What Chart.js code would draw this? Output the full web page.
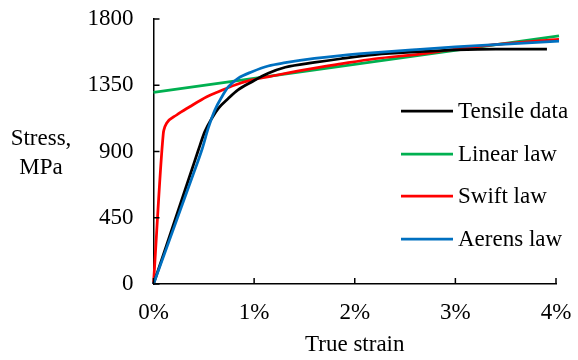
<!DOCTYPE html>
<html>
<head>
<meta charset="utf-8">
<script src="https://cdn.jsdelivr.net/npm/chart.js@4"></script>
<style>
  html, body { margin: 0; padding: 0; background: #fff; }
  #wrap { width: 578px; height: 360px; }
</style>
</head>
<body>
<div id="wrap"><canvas id="myChart"></canvas></div>
<script>
// strain in %, stress in MPa
const tensileStrain = [0, 0.38, 0.446, 0.51, 0.58, 0.645, 0.745, 0.84, 0.98, 1.14, 1.31, 1.6, 1.86, 2.2, 2.65, 3.0, 3.4, 3.91];
const tensileStress = [0, 774, 910, 1035, 1126, 1193, 1261, 1318, 1374, 1431, 1472, 1505, 1530, 1558, 1578, 1590, 1596, 1596];

const linearStrain = [0, 4.03];
const linearStress = [1302, 1685];

const swiftStrain = [0, 0.097, 0.105, 0.13, 0.23, 0.36, 0.53, 0.645, 0.81, 0.98, 1.16, 1.5, 1.86, 2.2, 2.65, 3.0, 3.5, 4.03];
const swiftStress = [0, 1020, 1050, 1092, 1148, 1204, 1272, 1306, 1352, 1386, 1410, 1455, 1495, 1530, 1562, 1595, 1632, 1662];

const aerensStrain = [0, 0.41, 0.48, 0.545, 0.61, 0.68, 0.745, 0.84, 0.98, 1.14, 1.31, 1.6, 1.86, 2.2, 2.65, 3.0, 3.5, 4.03];
const aerensStress = [0, 774, 910, 1060, 1182, 1272, 1340, 1397, 1442, 1481, 1503, 1532, 1552, 1572, 1594, 1610, 1630, 1650];

const seriesNames = ["Tensile data", "Linear law", "Swift law", "Aerens law"];
const seriesColors = ["#000000", "#00B050", "#FF0000", "#0070C0"];

const xTicks = [0, 1, 2, 3, 4];
const yTicks = [0, 450, 900, 1350, 1800];

const FONT = "'Liberation Serif', 'Times New Roman', serif";
const FSIZE = 23;

function toPoints(xs, ys) {
  return xs.map((x, i) => ({ x: x, y: ys[i] }));
}

const allX = [tensileStrain, linearStrain, swiftStrain, aerensStrain];
const allY = [tensileStress, linearStress, swiftStress, aerensStress];

const datasets = seriesNames.map((name, i) => ({
  label: name,
  data: toPoints(allX[i], allY[i]),
  borderColor: seriesColors[i],
  backgroundColor: seriesColors[i],
  borderWidth: 2.75,
  pointRadius: 0,
  fill: false,
  cubicInterpolationMode: "monotone",
  clip: false,
}));
// draw order: blue on top like the original
datasets[1].order = 3;
datasets[2].order = 2;
datasets[0].order = 1;
datasets[3].order = 0;

// inner tick marks, horizontal y title, legend inside the plot
const extras = {
  id: "extras",
  afterDraw(chart) {
    const ctx = chart.ctx;
    const xs = chart.scales.x;
    const ys = chart.scales.y;
    const area = chart.chartArea;
    ctx.save();
    ctx.strokeStyle = "#000";
    ctx.lineWidth = 1.5;
    xTicks.forEach((v) => {
      const px = xs.getPixelForValue(v);
      ctx.beginPath();
      ctx.moveTo(px, area.bottom);
      ctx.lineTo(px, area.bottom - 6);
      ctx.stroke();
    });
    yTicks.forEach((v) => {
      const py = ys.getPixelForValue(v);
      ctx.beginPath();
      ctx.moveTo(area.left, py);
      ctx.lineTo(area.left + 6, py);
      ctx.stroke();
    });

    ctx.fillStyle = "#000";
    ctx.font = FSIZE + "px " + FONT;
    ctx.textAlign = "center";
    ctx.textBaseline = "middle";
    ctx.fillText("Stress,", 41, 139);
    ctx.fillText("MPa", 41, 168);

    ctx.textAlign = "left";
    const rowY = [111, 154, 196, 239];
    seriesNames.forEach((name, i) => {
      ctx.strokeStyle = seriesColors[i];
      ctx.lineWidth = 2.75;
      ctx.beginPath();
      ctx.moveTo(401, rowY[i]);
      ctx.lineTo(453, rowY[i]);
      ctx.stroke();
      ctx.fillText(name, 458, rowY[i] + 1);
    });
    ctx.restore();
  },
};

new Chart(document.getElementById("myChart"), {
  type: "line",
  data: { datasets: datasets },
  options: {
    responsive: true,
    maintainAspectRatio: false,
    animation: false,
    layout: { padding: { top: 19, right: 22, left: 0, bottom: 0 } },
    plugins: { legend: { display: false }, tooltip: { enabled: false } },
    scales: {
      x: {
        type: "linear",
        min: 0,
        max: 4,
        afterBuildTicks: (s) => { s.ticks = xTicks.map((v) => ({ value: v })); },
        afterFit: (s) => { s.height = 76; s.paddingLeft = 0; s.paddingRight = 0; },
        grid: { drawOnChartArea: false, drawTicks: false },
        border: { color: "#000", width: 1.5 },
        ticks: {
          color: "#000",
          padding: 15,
          maxRotation: 0,
          font: { family: FONT, size: FSIZE },
          callback: (v) => v + "%",
        },
        title: {
          display: true,
          text: "True strain",
          color: "#000",
          font: { family: FONT, size: FSIZE },
          padding: { top: 0, bottom: 1 },
        },
      },
      y: {
        type: "linear",
        min: 0,
        max: 1800,
        afterBuildTicks: (s) => { s.ticks = yTicks.map((v) => ({ value: v })); },
        afterFit: (s) => { s.width = 153.5; s.paddingTop = 0; s.paddingBottom = 0; },
        grid: { drawOnChartArea: false, drawTicks: false },
        border: { color: "#000", width: 1.5 },
        ticks: {
          color: "#000",
          padding: 20,
          font: { family: FONT, size: FSIZE },
          callback: (v) => String(v),
        },
      },
    },
  },
  plugins: [extras],
});
</script>
</body>
</html>
